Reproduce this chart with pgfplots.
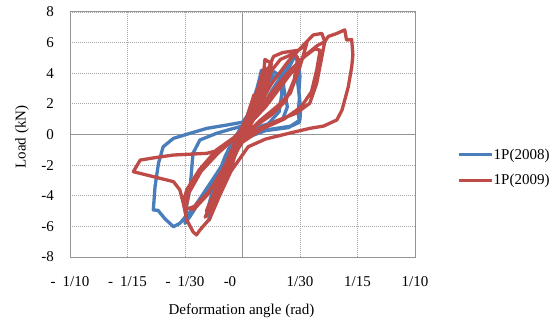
\documentclass[border=0pt]{standalone}
\usepackage{pgfplots}
\pgfplotsset{compat=1.18}
\usepackage{fontspec}
\setmainfont{Liberation Serif}
\definecolor{xlblue}{HTML}{4A7EBB}
\definecolor{xlred}{HTML}{BE4B48}
\newcommand{\lblfont}{\fontsize{15bp}{18bp}\selectfont}
\begin{document}
\begin{tikzpicture}
\path[use as bounding box] (0bp,0bp) rectangle (560bp,322bp);
\begin{axis}[
  at={(70bp,65bp)}, anchor=south west,
  width=345bp, height=245bp, scale only axis,
  xmin=-0.1, xmax=0.1, ymin=-8, ymax=8,
  xtick={-0.1,-0.0666667,-0.0333333,0,0.0333333,0.0666667,0.1},
  xticklabels={{-\hspace{7bp}1/10},{-\hspace{7bp}1/15},{-\hspace{7bp}1/30},{-0\hspace*{25bp}},1/30,1/15,1/10},
  ytick={-8,-6,-4,-2,0,2,4,6,8},
  yticklabels={-8,-6,-4,-2,0,2,4,6,8},
  grid=major,
  major grid style={gray!70, dash pattern=on 1bp off 1bp, line width=0.8bp},
  axis line style={gray!85, line width=1bp},
  major tick length=0pt,
  tick label style={font=\lblfont, inner sep=0pt},
  xticklabel shift=19bp,
  yticklabel shift=16bp,
  legend style={at={(1.1217,0.365)}, anchor=west, draw=none, fill=none,
    font=\lblfont, inner sep=0pt, row sep=13bp,
    nodes={inner sep=0.5bp}},
  legend cell align=left,
  legend image code/.code={\draw[#1, line width=3bp] (0bp,0bp) -- (33bp,0bp);},
]
\draw[gray!85, line width=1bp] (axis cs:0,-8) -- (axis cs:0,8);
\draw[gray!85, line width=1bp] (axis cs:-0.1,0) -- (axis cs:0.1,0);

\addplot[xlblue, line width=3.3bp, line join=round] coordinates {
(0,0.3) (0.0033,1.4) (0.0067,2.4) (0.0047,1.5) (0,0.3) (-0.0033,-0.9) (-0.0067,-2.0) (-0.0047,-1.2) (0,0.3)
(0.005,1.6) (0.0093,3.4) (0.011,4.2) (0.0123,3.9) (0.012,2.8) (0.0083,1.3) (0.0033,0.6) (-0.0017,0.1) (-0.0067,-1.3) (-0.0117,-3.1) (-0.0157,-4.5) (-0.0147,-3.6) (-0.0107,-1.8) (-0.004,-0.1) (0.0017,0.4)
(0.004,1.3) (0.008,2.9) (0.0113,3.8) (0.0117,3.0) (0.009,1.5) (0.004,0.6) (0,0.2) (-0.006,-1.2) (-0.011,-2.9) (-0.0143,-3.9) (-0.0127,-2.8) (-0.008,-1.2) (-0.002,0.2)
(0.0083,1.8) (0.015,3.5) (0.0183,4.1) (0.0207,3.9) (0.0233,4.1) (0.024,3.0) (0.026,1.8) (0.0233,1.0) (0.0133,0.55) (0.0033,0.3) (-0.0033,0.0) (-0.01,-1.4) (-0.0167,-3.4) (-0.02,-4.8) (-0.0193,-5.6) (-0.0167,-4.5) (-0.0133,-2.8) (-0.0083,-1.0) (-0.0017,0.3)
(0.007,1.6) (0.013,3.0) (0.019,3.8) (0.0227,3.7) (0.0227,2.6) (0.0213,1.5) (0.015,0.7) (0.005,0.35) (-0.003,0) (-0.009,-1.3) (-0.015,-3.0) (-0.0187,-4.5) (-0.0183,-5.0) (-0.015,-3.8) (-0.011,-2.2) (-0.006,-0.7) (0,0.3)
(0.01,1.5) (0.0183,3.1) (0.025,4.2) (0.0293,5.0) (0.0307,5.2) (0.0323,4.6) (0.032,3.4) (0.033,2.4) (0.0323,1.4) (0.033,0.8) (0.0283,0.55) (0.0167,0.35) (0.0067,0.15) (0,-0.2) (-0.0083,-1.3) (-0.0167,-2.9) (-0.025,-4.4) (-0.0307,-5.4) (-0.0333,-5.8) (-0.0323,-4.6) (-0.0303,-3.4) (-0.0287,-1.23) (-0.0247,-0.36) (-0.015,0.08) (-0.0067,0.35) (0,0.55)
(0.0083,1.2) (0.0183,2.9) (0.0267,4.3) (0.03,5.05) (0.0323,4.9) (0.0333,3.8) (0.0327,2.8) (0.0337,1.7) (0.0333,0.95) (0.0267,0.45) (0.0133,0.25) (0,-0.3) (-0.01,-1.7) (-0.02,-3.4) (-0.0283,-4.8) (-0.0333,-5.4) (-0.0363,-5.8) (-0.04,-6.02) (-0.045,-5.5) (-0.049,-4.95) (-0.0517,-4.93) (-0.0507,-3.4) (-0.0487,-1.88) (-0.046,-0.8) (-0.04,-0.25) (-0.0303,0.08) (-0.0207,0.4) (-0.009,0.62) (0,0.8) (0.0033,1.3)
};
\addlegendentry{1P(2008)}

\addplot[xlred, line width=3.3bp, line join=round] coordinates {
(0,0) (0.0033,1.4) (0.0067,2.6) (0.0053,1.8) (0.0007,0.3) (-0.0033,-1.0) (-0.0067,-2.2) (-0.0053,-1.5) (0,0)
(0.005,1.8) (0.01,3.2) (0.012,3.7) (0.013,4.9) (0.0167,4.65) (0.0153,3.6) (0.0117,2.0) (0.005,0.7) (0,-0.1) (-0.0067,-1.5) (-0.0117,-3.0) (-0.015,-4.3) (-0.014,-3.5) (-0.0093,-1.8) (-0.0027,-0.1)
(0.004,1.5) (0.009,3.0) (0.012,4.2) (0.0135,4.3) (0.013,3.2) (0.009,1.6) (0.004,0.5) (0,-0.3) (-0.006,-1.8) (-0.011,-3.3) (-0.0143,-4.0) (-0.012,-2.8) (-0.007,-1.2) (-0.002,0)
(0.0033,1.0) (0.01,2.8) (0.015,4.3) (0.018,5.1) (0.0233,5.35) (0.0323,5.5) (0.035,5.7) (0.0373,5.96) (0.0333,4.43) (0.0277,2.7) (0.0197,1.8) (0.01,0.9) (0,-0.2) (-0.0083,-1.8) (-0.015,-3.6) (-0.02,-5.0) (-0.0217,-5.4) (-0.0183,-4.8) (-0.014,-3.2) (-0.0067,-1.2) (0,0.1)
(0.006,1.3) (0.012,3.0) (0.017,4.2) (0.022,4.9) (0.03,5.3) (0.032,5.0) (0.03,3.6) (0.025,2.2) (0.017,1.3) (0.008,0.6) (0,-0.4) (-0.008,-2.0) (-0.014,-3.8) (-0.019,-4.8) (-0.021,-5.0) (-0.017,-4.0) (-0.012,-2.5) (-0.005,-0.8) (0,0.1)
(0.0083,1.6) (0.0167,3.3) (0.0267,4.8) (0.0333,5.6) (0.041,6.5) (0.046,6.6) (0.0477,6.06) (0.045,4.5) (0.043,3.34) (0.039,2.04) (0.0313,1.4) (0.02,0.9) (0.01,0.4) (0,-0.4) (-0.01,-2.0) (-0.02,-3.9) (-0.0283,-4.9) (-0.0323,-4.8) (-0.0343,-4.4) (-0.0323,-3.6) (-0.025,-2.3) (-0.015,-1.0) (-0.005,-0.2)
(0.008,1.2) (0.016,2.6) (0.026,4.0) (0.035,5.0) (0.042,5.6) (0.045,5.5) (0.043,4.2) (0.04,2.8) (0.034,1.8) (0.024,1.0) (0.012,0.4) (0,-0.5) (-0.01,-2.2) (-0.02,-3.8) (-0.028,-4.7) (-0.033,-4.9) (-0.031,-3.8) (-0.024,-2.4) (-0.014,-1.2) (-0.005,-0.3)
(0.0033,0.6) (0.0133,1.8) (0.0267,3.8) (0.0367,5.2) (0.0433,5.8) (0.0477,6.06) (0.0497,6.4) (0.0547,6.6) (0.0593,6.83) (0.0603,6.17) (0.0633,6.2) (0.064,5.2) (0.0633,4.4) (0.0613,3.1) (0.0577,1.6) (0.0547,0.95) (0.047,0.55) (0.039,0.4) (0.0277,0.1) (0.0133,-0.3) (0.0033,-0.8) (-0.0067,-2.4) (-0.0133,-4.0) (-0.019,-5.5) (-0.0247,-6.24) (-0.0267,-6.56) (-0.0287,-6.35) (-0.0323,-5.58) (-0.0343,-4.5) (-0.0363,-3.62) (-0.04,-3.08) (-0.05,-2.8) (-0.0593,-2.54) (-0.0633,-2.43) (-0.0593,-1.67) (-0.05,-1.5) (-0.04,-1.34) (-0.0207,-1.23) (-0.013,-1.0) (-0.0053,-0.36) (0,0.2)
};
\addlegendentry{1P(2009)}
\end{axis}
\node[rotate=90, font=\lblfont] at (22bp,185bp) {Load (kN)};
\node[font=\lblfont] at (241.5bp,11bp) {Deformation angle (rad)};
\end{tikzpicture}
\end{document}
